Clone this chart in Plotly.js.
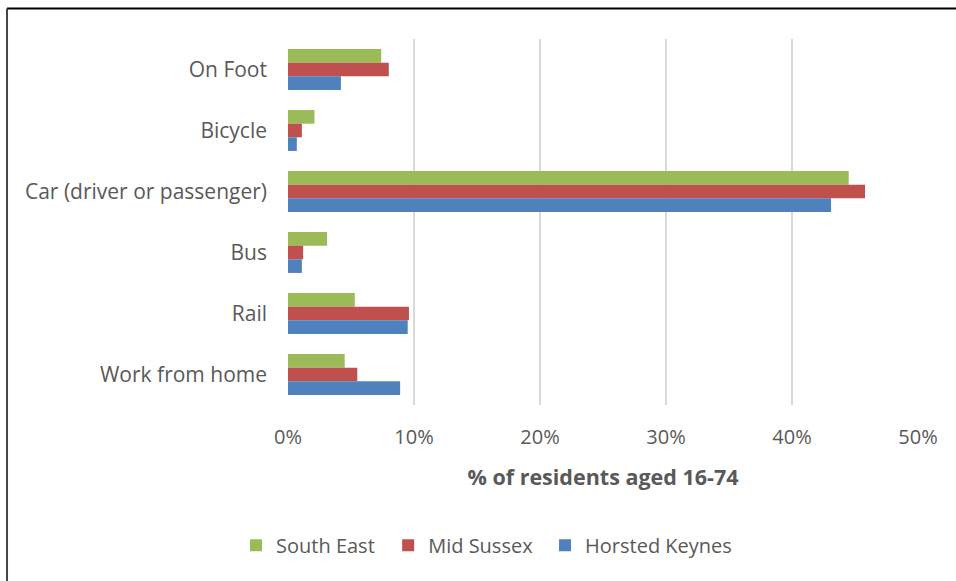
<!DOCTYPE html>
<html>
<head>
<meta charset="utf-8">
<script src="https://cdn.plot.ly/plotly-3.0.1.min.js"></script>
<style>html,body{margin:0;padding:0;background:#fff;}#chart{width:956px;height:581px;}</style>
</head>
<body>
<div id="chart"></div>
<script>
const categories = ["On Foot", "Bicycle", "Car (driver or passenger)", "Bus", "Rail", "Work from home"];
const southEast = [7.4, 2.1, 44.5, 3.1, 5.3, 4.5];
const midSussex = [8.0, 1.1, 45.8, 1.2, 9.6, 5.5];
const horstedKeynes = [4.2, 0.7, 43.1, 1.1, 9.5, 8.9];
const seriesNames = ["South East", "Mid Sussex", "Horsted Keynes"];
const colors = ["#9BBB59", "#C0504D", "#4F81BD"];
const xTicks = [0, 10, 20, 30, 40, 50];
const xTickLabels = ["0%", "10%", "20%", "30%", "40%", "50%"];

const FONT = "'Open Sans', sans-serif";
const seriesData = [southEast, midSussex, horstedKeynes];
const legendIds = ["legend", "legend2", "legend3"];
const legendX = [-0.0825, 0.159, 0.408];
const traces = [0, 1, 2].map(i => ({
  type: "bar",
  orientation: "h",
  name: seriesNames[i],
  y: categories,
  x: seriesData[i],
  marker: {color: colors[i]},
  legend: legendIds[i],
  hoverinfo: "x+name"
}));

const layout = {
  width: 956, height: 581,
  margin: {l: 288, r: 38, t: 38.5, b: 175.5},
  paper_bgcolor: "#ffffff",
  plot_bgcolor: "#ffffff",
  barmode: "group",
  bargap: 0.33,
  bargroupgap: 0,
  showlegend: true,
  xaxis: {
    range: [0, 50],
    tickvals: xTicks,
    ticktext: xTickLabels,
    showgrid: true,
    gridcolor: "#D9D9D9",
    gridwidth: 2,
    zeroline: false,
    showline: false,
    ticks: "",
    ticklabelstandoff: 18,
    tickfont: {family: FONT, size: 20, color: "#595959"},
    title: {text: "<b>% of residents aged 16-74</b>", font: {family: FONT, size: 21.5, color: "#595959"}, standoff: 20},
    fixedrange: true
  },
  yaxis: {
    autorange: "reversed",
    type: "category",
    showgrid: false,
    zeroline: false,
    showline: false,
    ticks: "",
    ticklabelstandoff: 20,
    tickfont: {family: FONT, size: 21, color: "#595959"},
    fixedrange: true
  },
  shapes: [
    {type: "line", xref: "paper", yref: "paper", x0: -0.446, x1: 1.07, y0: 1.083, y1: 1.083, line: {color: "#000000", width: 2}},
    {type: "line", xref: "paper", yref: "paper", x0: -0.446, x1: -0.446, y0: 1.083, y1: -0.5, line: {color: "#444444", width: 2}}
  ]
};
legendIds.forEach((id, i) => {
  layout[id] = {
    orientation: "h",
    x: legendX[i], xanchor: "left",
    y: -0.33, yanchor: "top",
    font: {family: FONT, size: 20, color: "#595959"},
    itemwidth: 30,
    bgcolor: "rgba(0,0,0,0)"
  };
});

Plotly.newPlot("chart", traces, layout, {displayModeBar: false, staticPlot: true});
</script>
</body>
</html>
